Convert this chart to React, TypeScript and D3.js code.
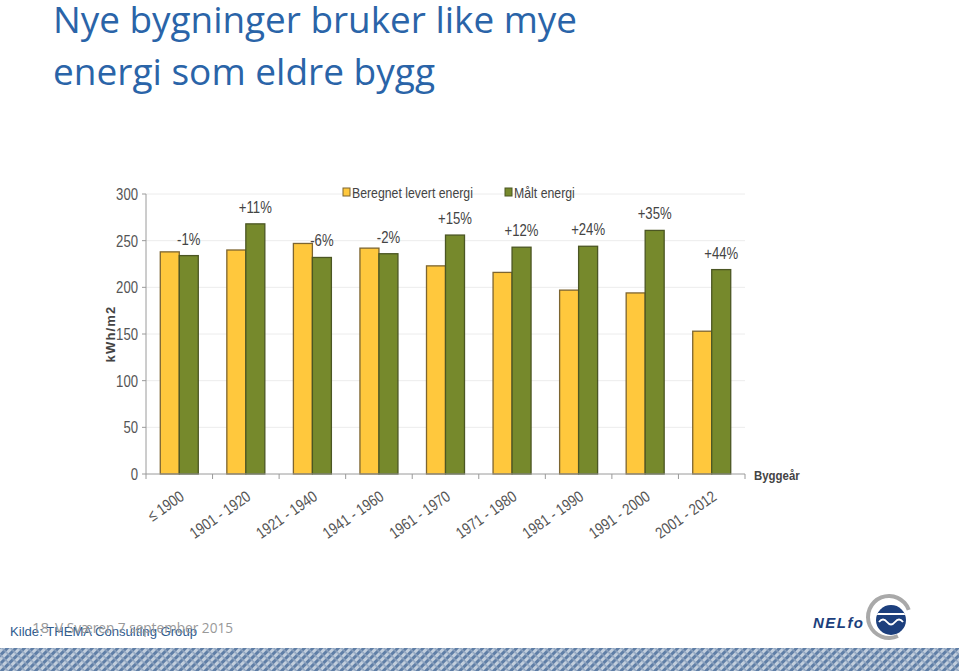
import * as d3 from 'd3';
import React from 'react';

// byggeår categories
const categories = [
  '≤ 1900',
  '1901 - 1920',
  '1921 - 1940',
  '1941 - 1960',
  '1961 - 1970',
  '1971 - 1980',
  '1981 - 1990',
  '1991 - 2000',
  '2001 - 2012',
];
const beregnet = [238, 240, 247, 242, 223, 216, 197, 194, 153];
const maalt = [234, 268, 232, 236, 256, 243, 244, 261, 219];
const diffLabels = ['-1%', '+11%', '-6%', '-2%', '+15%', '+12%', '+24%', '+35%', '+44%'];
const yTicks = [0, 50, 100, 150, 200, 250, 300];
const seriesNames = ['Beregnet levert energi', 'Målt energi'];

const W = 959;
const H = 671;
const margin = { top: 194, right: 214, bottom: 197, left: 146 };

const YELLOW = '#ffc83d';
const YELLOW_STROKE = '#7d6530';
const GREEN = '#76892c';
const GREEN_STROKE = '#4b5623';
const chartFont = "'Liberation Sans', Arial, sans-serif";
const NARROW = 0.82;

// narrow text, like Arial Narrow in the original chart
const narrow = (x: number, y: number, rot = 0) =>
  `translate(${x}, ${y}) rotate(${rot}) scale(${NARROW}, 1)`;

export default function App() {
  const x = d3
    .scaleBand<string>()
    .domain(categories)
    .range([margin.left, W - margin.right])
    .padding(0);
  const y = d3
    .scaleLinear()
    .domain([0, 300])
    .range([H - margin.bottom, margin.top]);
  const sub = d3.scaleBand<string>().domain(seriesNames).range([-19, 19]).padding(0);
  const bottom = H - margin.bottom;
  const colors = [YELLOW, GREEN];
  const strokes = [YELLOW_STROKE, GREEN_STROKE];
  const series = [beregnet, maalt];

  // grey crescent around the logo
  const ring = d3.arc()({
    innerRadius: 19,
    outerRadius: 23,
    startAngle: (70 * Math.PI) / 180,
    endAngle: (-205 * Math.PI) / 180,
  });

  return (
    <svg
      width={W}
      height={H}
      style={{ position: 'absolute', left: 0, top: 0, background: '#fff' }}
    >
      <defs>
        <pattern id="weave" width="6" height="6" patternUnits="userSpaceOnUse" patternTransform="rotate(45)">
          <rect width="6" height="6" fill="#c3cfdd" />
          <rect width="3" height="6" fill="#5f7ea6" />
          <rect y="0" width="6" height="1.5" fill="#8ea3bf" />
        </pattern>
        <clipPath id="logoClip">
          <circle cx={891} cy={620} r={15} />
        </clipPath>
      </defs>

      {/* title */}
      <g fill="#2a64a8" fontFamily="'Open Sans', 'Noto Sans', sans-serif" fontSize={36}>
        <text x={53} y={33} textLength={524} lengthAdjust="spacingAndGlyphs">
          Nye bygninger bruker like mye
        </text>
        <text x={53} y={85} textLength={382} lengthAdjust="spacingAndGlyphs">
          energi som eldre bygg
        </text>
      </g>

      {/* grid */}
      <g>
        {yTicks.slice(1).map((t) => (
          <line
            key={t}
            x1={margin.left}
            x2={W - margin.right}
            y1={y(t)}
            y2={y(t)}
            stroke="#ececec"
            strokeWidth={1}
          />
        ))}
      </g>

      {/* bars */}
      {categories.map((c, i) => {
        const cx = (x(c) || 0) + x.bandwidth() / 2;
        return (
          <g key={c}>
            {series.map((s, j) => (
              <rect
                key={j}
                x={cx + (sub(seriesNames[j]) || 0)}
                y={y(s[i])}
                width={sub.bandwidth()}
                height={bottom - y(s[i])}
                fill={colors[j]}
                stroke={strokes[j]}
                strokeWidth={1.3}
              />
            ))}
            <text
              transform={narrow(cx + (sub(seriesNames[1]) || 0) + sub.bandwidth() / 2, y(maalt[i]) - 11)}
              textAnchor="middle"
              fontFamily={chartFont}
              fontSize={16}
              fill="#444"
            >
              {diffLabels[i]}
            </text>
          </g>
        );
      })}

      {/* y axis */}
      <g fontFamily={chartFont} fontSize={16} fill="#555">
        <line x1={margin.left} x2={margin.left} y1={margin.top} y2={bottom} stroke="#9a9a9a" />
        {yTicks.map((t) => (
          <g key={t}>
            <line x1={margin.left - 4} x2={margin.left} y1={y(t)} y2={y(t)} stroke="#9a9a9a" />
            <text transform={narrow(margin.left - 8, y(t) + 6)} textAnchor="end">
              {t}
            </text>
          </g>
        ))}
        <text
          transform={`translate(115, ${y(150)}) rotate(-90)`}
          textAnchor="middle"
          fontWeight="bold"
          fontSize={13}
          letterSpacing={1.2}
          fill="#444"
        >
          kWh/m2
        </text>
      </g>

      {/* x axis */}
      <g fontFamily={chartFont} fontSize={16} fill="#555">
        <line x1={margin.left} x2={W - margin.right} y1={bottom} y2={bottom} stroke="#9a9a9a" />
        {categories.map((c) => (
          <line
            key={'t' + c}
            x1={x(c) || 0}
            x2={x(c) || 0}
            y1={bottom}
            y2={bottom + 5}
            stroke="#9a9a9a"
          />
        ))}
        <line
          x1={W - margin.right}
          x2={W - margin.right}
          y1={bottom}
          y2={bottom + 5}
          stroke="#9a9a9a"
        />
        {categories.map((c) => {
          const cx = (x(c) || 0) + x.bandwidth() / 2;
          return (
            <text key={c} transform={narrow(cx + 6, bottom + 25, -35)} textAnchor="end">
              {c}
            </text>
          );
        })}
        <text
          transform={`translate(754, ${bottom + 6}) scale(0.88, 1)`}
          fontWeight="bold"
          fontSize={13}
          fill="#444"
        >
          Byggeår
        </text>
      </g>

      {/* legend */}
      <g fontFamily={chartFont} fontSize={15} fill="#444">
        <rect x={343} y={188} width={7} height={8} fill={YELLOW} stroke={YELLOW_STROKE} />
        <text transform={narrow(352, 198)}>{seriesNames[0]}</text>
        <rect x={505} y={188} width={7} height={8} fill={GREEN} stroke={GREEN_STROKE} />
        <text transform={narrow(514, 198)}>{seriesNames[1]}</text>
      </g>

      {/* footer */}
      <text
        x={10}
        y={636}
        fontFamily="'Liberation Sans', Arial, sans-serif"
        fontSize={13}
        fill="#2f5c8f"
        textLength={187}
        lengthAdjust="spacingAndGlyphs"
      >
        Kilde: THEMA Consulting Group
      </text>
      <text x={32} y={633} fontFamily="'Open Sans', sans-serif" fontSize={15} fill="#999">
        18
      </text>
      <text
        x={55}
        y={633}
        fontFamily="'Open Sans', sans-serif"
        fontSize={15}
        fill="#999"
        textLength={178}
        lengthAdjust="spacingAndGlyphs"
      >
        V Sværen 7 september 2015
      </text>

      {/* logo */}
      <g>
        <text
          x={813}
          y={628}
          fontFamily="'Liberation Sans', Arial, sans-serif"
          fontStyle="italic"
          fontWeight="bold"
          fontSize={15}
          fill="#1c3f7d"
          textLength={50}
          lengthAdjust="spacing"
        >
          NELfo
        </text>
        <path d={ring || ''} transform="translate(889, 617)" fill="#a9a9a9" />
        <circle cx={891} cy={620} r={15} fill="#1c3f7d" />
        <g clipPath="url(#logoClip)">
          <line x1={874} x2={908} y1={614} y2={614} stroke="#fff" strokeWidth={2} />
          <path
            d="M 879 622 q 4 -5 8 0 t 8 0 t 8 0"
            fill="none"
            stroke="#fff"
            strokeWidth={2}
          />
        </g>
      </g>

      {/* bottom strip */}
      <rect x={0} y={648} width={W} height={H - 648} fill="url(#weave)" />
    </svg>
  );
}
